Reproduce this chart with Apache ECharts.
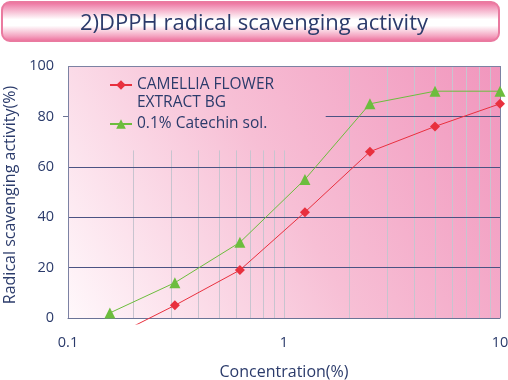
<!DOCTYPE html>
<html><head><meta charset="utf-8">
<script src="https://cdn.jsdelivr.net/npm/echarts@6/dist/echarts.min.js"></script>
<style>html,body{margin:0;padding:0;background:#fff}#c{width:508px;height:380px}</style>
</head><body><div id="c"></div>
<script>
// ---- data ----
const concentrations = [0.15625, 0.3125, 0.625, 1.25, 2.5, 5, 10];
const camelliaValues = [-8, 5, 19, 42, 66, 76, 85];
const catechinValues = [2, 14, 30, 55, 85, 90, 90];
const yTickValues = [0, 20, 40, 60, 80, 100];
const majorGridY = [20, 40, 60];
const minorGridLow = [0.2, 0.3, 0.4, 0.5, 0.6, 0.7, 0.8, 0.9, 1];
const minorGridHigh = [2, 3, 4, 5, 6, 7, 8, 9];
const seriesNames = ['CAMELLIA FLOWER EXTRACT BG', '0.1% Catechin sol.'];
const titleText = '2)DPPH radical scavenging activity';

const FONT = 'Open Sans';
const NAVY = '#2b3b6b';
const chart = echarts.init(document.getElementById('c'));

const toPairs = (xs, ys) => xs.map((x, i) => (ys[i] < 0 ? { value: [x, ys[i]], symbol: 'none' } : [x, ys[i]]));

const gridLines = [];
majorGridY.forEach(v => gridLines.push([{ coord: [0.1, v] }, { coord: [10, v] }]));
gridLines.push([{ coord: [1.56, 80] }, { coord: [10, 80] }]);
const minorLines = [];
minorGridLow.forEach(v => minorLines.push([{ coord: [v, 0] }, { coord: [v, 66.5] }]));
minorGridHigh.forEach(v => minorLines.push([{ coord: [v, 0] }, { coord: [v, 100] }]));
const borderLines = [
  [{ coord: [0.1, 100] }, { coord: [10, 100] }],
  [{ coord: [10, 0] }, { coord: [10, 100] }],
  [{ coord: [0.1, 0] }, { coord: [0.1, 100] }]
];

chart.setOption({
  animation: false,
  textStyle: { fontFamily: FONT },
  title: {
    text: titleText, left: 'center', top: 8,
    textStyle: { fontFamily: FONT, fontSize: 22, fontWeight: 'normal', color: NAVY }
  },
  graphic: [{
    type: 'rect', z: -1,
    shape: { x: 2, y: 2, width: 497, height: 39, r: 8 },
    style: {
      fill: new echarts.graphic.LinearGradient(0, 0, 0, 1, [
        { offset: 0, color: '#ec6595' },
        { offset: 0.15, color: '#f29abb' },
        { offset: 0.45, color: '#ffffff' },
        { offset: 0.6, color: '#ffffff' },
        { offset: 0.85, color: '#f4a6c2' },
        { offset: 1, color: '#ec6595' }
      ]),
      stroke: '#ea7aa0', lineWidth: 2
    }
  }],
  legend: [{
    data: [seriesNames[0]], orient: 'vertical', left: 109, top: 58, padding: 0,
    itemWidth: 22, itemHeight: 12, itemGap: 5,
    formatter: n => '\n' + n.replace(' EXTRACT', '\nEXTRACT'),
    textStyle: { fontFamily: FONT, fontSize: 15.5, color: NAVY, lineHeight: 18 }
  }, {
    data: [seriesNames[1]], orient: 'vertical', left: 109, top: 115, padding: 0,
    itemWidth: 22, itemHeight: 12,
    textStyle: { fontFamily: FONT, fontSize: 15.5, color: NAVY, lineHeight: 18 }
  }],
  grid: { left: 68, right: 8, top: 66, bottom: 56, containLabel: false, outerBoundsMode: 'none' },
  xAxis: {
    type: 'log', logBase: 10, min: 0.1, max: 10,
    name: 'Concentration(%)', nameLocation: 'middle', nameGap: 40,
    nameTextStyle: { fontFamily: FONT, fontSize: 16, color: NAVY },
    axisLine: { onZero: true, lineStyle: { color: '#6b7396', width: 1 } },
    axisTick: { show: false },
    splitLine: { show: false },
    axisLabel: { margin: 11, fontFamily: FONT, fontSize: 14.5, color: NAVY }
  },
  yAxis: {
    type: 'value', min: -2.4, max: 100,
    name: 'Radical scavenging activity(%)', nameLocation: 'middle', nameGap: 44,
    nameTextStyle: { fontFamily: FONT, fontSize: 16, color: NAVY },
    axisLine: { show: false },
    axisTick: { show: true, customValues: [80], length: 5, lineStyle: { color: '#6b7396' } },
    splitLine: { show: false },
    axisLabel: { customValues: yTickValues, margin: 14, fontFamily: FONT, fontSize: 14.5, color: NAVY }
  },
  series: [{
    type: 'line', name: 'bg', data: [], z: 0, silent: true,
    markArea: {
      silent: true,
      itemStyle: {
        color: new echarts.graphic.LinearGradient(0, 1, 1, 0, [
          { offset: 0, color: '#fff8fb' },
          { offset: 0.5, color: '#f7bfd5' },
          { offset: 1, color: '#f196bd' }
        ])
      },
      data: [[{ coord: [0.1, 0] }, { coord: [10, 100] }]]
    }
  }, {
    type: 'line', name: 'grid', data: [], z: 1, silent: true,
    markLine: {
      silent: true, symbol: 'none', label: { show: false }, animation: false,
      lineStyle: { type: 'solid', color: '#c8c4cf', width: 1 },
      data: minorLines
    }
  }, {
    type: 'line', name: 'grid2', data: [], z: 1, silent: true,
    markLine: {
      silent: true, symbol: 'none', label: { show: false }, animation: false,
      lineStyle: { type: 'solid', color: '#4b5383', width: 1 },
      data: gridLines
    }
  }, {
    type: 'line', name: 'border', data: [], z: 1, silent: true,
    markLine: {
      silent: true, symbol: 'none', label: { show: false }, animation: false,
      lineStyle: { type: 'solid', color: '#7c82a3', width: 1 },
      data: borderLines
    }
  }, {
    type: 'line', name: seriesNames[0], z: 5,
    data: toPairs(concentrations, camelliaValues),
    symbol: 'diamond', symbolSize: 10,
    lineStyle: { color: '#e8303e', width: 1 },
    itemStyle: { color: '#e8303e' }
  }, {
    type: 'line', name: seriesNames[1], z: 6,
    data: toPairs(concentrations, catechinValues),
    symbol: 'triangle', symbolSize: 11,
    lineStyle: { color: '#6cbd3d', width: 1 },
    itemStyle: { color: '#6cbd3d' }
  }]
});
</script></body></html>
